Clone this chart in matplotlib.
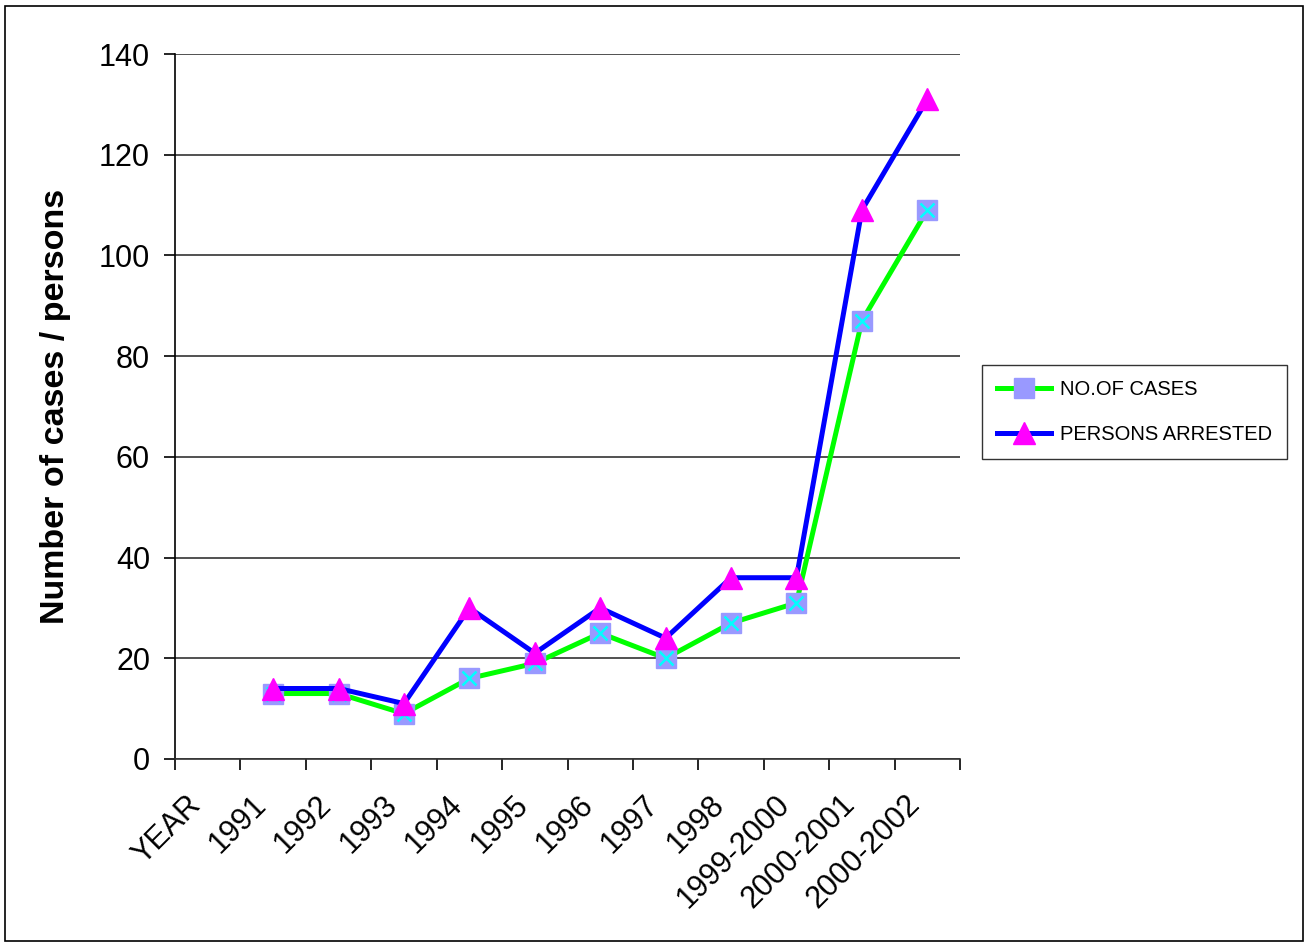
import matplotlib.pyplot as plt
import matplotlib.transforms as mtransforms
from matplotlib import font_manager
from matplotlib.patches import Rectangle

plt.rcParams['font.family'] = ['Liberation Sans', 'DejaVu Sans']

# Data
categories = ['YEAR', '1991', '1992', '1993', '1994', '1995', '1996', '1997',
              '1998', '1999-2000', '2000-2001', '2000-2002']
cases = [None, 13, 13, 9, 16, 19, 25, 20, 27, 31, 87, 109]
arrested = [None, 14, 14, 11, 30, 21, 30, 24, 36, 36, 109, 131]
y_ticks = [0, 20, 40, 60, 80, 100, 120, 140]

x = list(range(len(categories)))
xs = [i for i, v in zip(x, cases) if v is not None]
cases_v = [v for v in cases if v is not None]
arrested_v = [v for v in arrested if v is not None]

fig = plt.figure(figsize=(13.05, 9.42), dpi=100)
ax = fig.add_axes([175 / 1305, 1 - 759 / 942, (960 - 175) / 1305, (759 - 54) / 942])

# outer chart border
fig.patches.append(Rectangle((5 / 1305, 1 / 942), 1298 / 1305, 935 / 942,
                             transform=fig.transFigure, fill=False,
                             edgecolor='black', linewidth=1.2))

ax.plot(xs, cases_v, color='#00FF00', linewidth=3.6, marker='s', markersize=14,
        markerfacecolor='#9999FF', markeredgecolor='#9999FF', zorder=3,
        label='NO.OF CASES')
ax.plot(xs, cases_v, linestyle='none', marker='x', markersize=10,
        markeredgecolor='#00FFFF', markeredgewidth=1.8, zorder=4)
ax.plot(xs, arrested_v, color='#0000FF', linewidth=3.6, marker='^', markersize=16,
        markerfacecolor='#FF00FF', markeredgecolor='#FF00FF', zorder=5,
        label='PERSONS ARRESTED')

ax.set_xlim(-0.5, len(categories) - 0.5)
ax.set_ylim(0, 140)
ax.set_yticks(y_ticks)
ax.yaxis.grid(True, color='#333333', linewidth=1.2)
ax.set_axisbelow(True)

ax.set_xticks(x)
ax.set_xticklabels(categories, rotation=45, ha='right', va='top',
                   rotation_mode='anchor', fontsize=22)
ax.set_xticks([i - 0.5 for i in range(len(categories) + 1)], minor=True)
ax.tick_params(axis='x', which='major', length=0, pad=22)
ax.tick_params(axis='x', which='minor', length=8, width=1.2, direction='out')
ax.tick_params(axis='y', length=8, width=1.2, labelsize=22, pad=10)

shift = mtransforms.ScaledTranslation(-22 / 100, 0, fig.dpi_scale_trans)
for lbl in ax.get_xticklabels():
    lbl.set_transform(lbl.get_transform() + shift)

for s in ['top', 'right']:
    ax.spines[s].set_visible(False)
ax.spines['left'].set_linewidth(1.2)
ax.spines['bottom'].set_linewidth(1.2)
ax.spines['bottom'].set_color('#333333')

ax.set_ylabel('Number of cases / persons', fontsize=24.5, fontweight='bold', labelpad=20)

# legend text is squeezed in the original; use a narrow face if there is one
names = {f.name for f in font_manager.fontManager.ttflist}
if 'Liberation Sans Narrow' in names:
    leg_font = {'family': ['Liberation Sans Narrow', 'Liberation Sans'], 'size': 18}
else:
    leg_font = {'family': ['Liberation Sans'], 'size': 14.5}

ax.legend(loc='center left', bbox_to_anchor=(982 / 1305, 1 - 412 / 942),
          bbox_transform=fig.transFigure, prop=leg_font, frameon=True,
          fancybox=False, edgecolor='black', handlelength=2.7,
          borderpad=0.75, labelspacing=1.3, handletextpad=0.4,
          borderaxespad=0)

fig.savefig('out.png', dpi=100, facecolor='white')
